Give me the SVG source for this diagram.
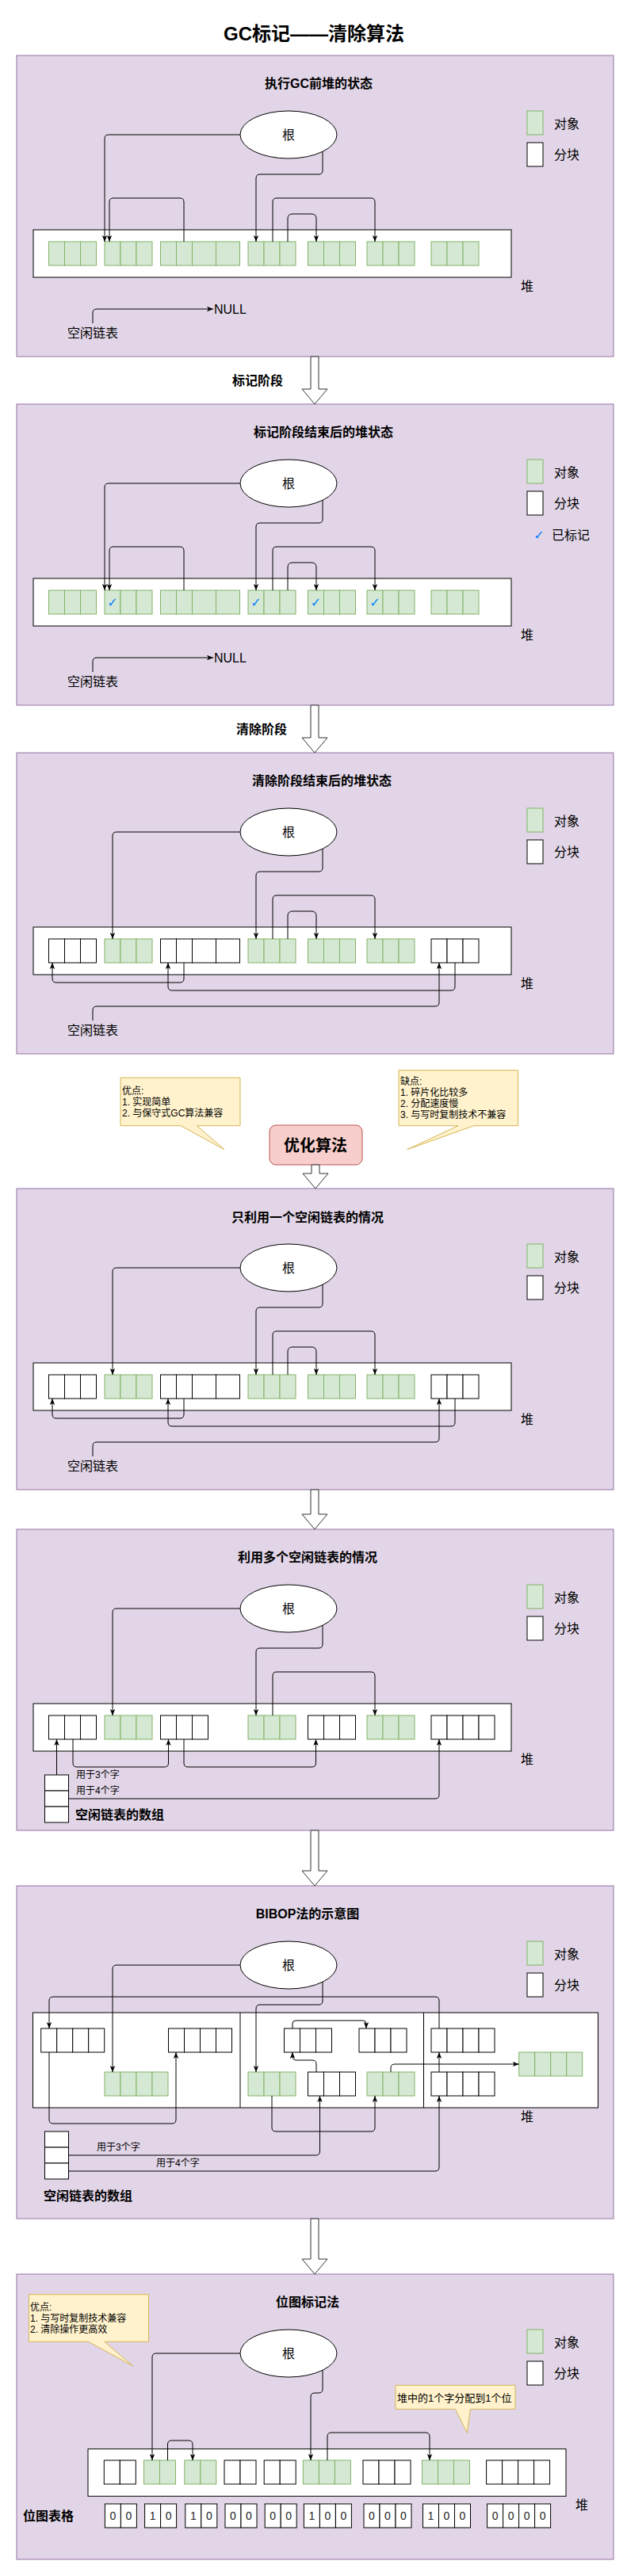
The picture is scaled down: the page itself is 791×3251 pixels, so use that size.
<svg xmlns="http://www.w3.org/2000/svg" width="791" height="3251" viewBox="0 0 791 3251">
<defs>
<marker id="ah" viewBox="0 0 10 10" refX="10" refY="5" markerWidth="8" markerHeight="8" markerUnits="userSpaceOnUse" orient="auto"><path d="M0,1 L10,5 L0,9 L2.5,5 Z" fill="#000"/></marker>
</defs>
<style>
text{font-family:"Liberation Sans","Noto Sans CJK SC",sans-serif;fill:#000}
.panel{fill:#e1d5e7;stroke:#9673a6;stroke-width:1}
.ptitle{font-size:16px;font-weight:bold;text-anchor:middle;dominant-baseline:central}
.lbl{font-size:16px;dominant-baseline:central}
.b{font-weight:bold}
.c{text-anchor:middle}
.g{fill:#d5e8d4;stroke:#82b366;stroke-width:1}
.w{fill:#fff;stroke:#000;stroke-width:1}
.heap{fill:#fff;stroke:#000;stroke-width:1}
.ell{fill:#fff;stroke:#000;stroke-width:1}
.cn{fill:none;stroke:#000;stroke-width:1}
.ar{marker-end:url(#ah)}
.barrow{fill:#fff;stroke:#333;stroke-width:1}
.call{fill:#fff2cc;stroke:#d6b656;stroke-width:1}
.ct{font-size:12px;dominant-baseline:central}
.bit{font-size:14px;text-anchor:middle;dominant-baseline:central;fill:#222}
.chk{font-family:"DejaVu Sans",sans-serif;fill:#007fff;font-size:16px;text-anchor:middle;dominant-baseline:central}
</style>

<text id="title" x="396" y="42" font-size="24" font-weight="bold" text-anchor="middle" dominant-baseline="central">GC标记——清除算法</text>

<!-- ============ Panel 1 ============ -->
<g id="panel1">
<rect class="panel" x="21" y="70" width="753" height="380"/>
<text class="ptitle" x="402" y="105">执行GC前堆的状态</text>
<g id="p1-root"><ellipse class="ell" cx="364" cy="170" rx="61" ry="30"/><text class="lbl c" x="364" y="170">根</text></g>
<g id="p1-legend"><rect class="g" x="665" y="140" width="20" height="30"/><text class="lbl" x="699" y="156">对象</text><rect class="w" x="665" y="180" width="20" height="30"/><text class="lbl" x="699" y="195">分块</text></g>
<g id="p1-heap">
<rect class="heap" x="42" y="290" width="603" height="60"/>
<rect class="g" x="61.5" y="305" width="20" height="30"/><rect class="g" x="81.5" y="305" width="20" height="30"/><rect class="g" x="101.5" y="305" width="20" height="30"/>
<rect class="g" x="132" y="305" width="20" height="30"/><rect class="g" x="152" y="305" width="20" height="30"/><rect class="g" x="172" y="305" width="20" height="30"/>
<rect class="g" x="202.5" y="305" width="20" height="30"/><rect class="g" x="222.5" y="305" width="20" height="30"/><rect class="g" x="242.5" y="305" width="30" height="30"/><rect class="g" x="272.5" y="305" width="30" height="30"/>
<rect class="g" x="313" y="305" width="20" height="30"/><rect class="g" x="333" y="305" width="20" height="30"/><rect class="g" x="353" y="305" width="20" height="30"/>
<rect class="g" x="388.5" y="305" width="20" height="30"/><rect class="g" x="408.5" y="305" width="20" height="30"/><rect class="g" x="428.5" y="305" width="20" height="30"/>
<rect class="g" x="463" y="305" width="20" height="30"/><rect class="g" x="483" y="305" width="20" height="30"/><rect class="g" x="503" y="305" width="20" height="30"/>
<rect class="g" x="544" y="305" width="20" height="30"/><rect class="g" x="564" y="305" width="20" height="30"/><rect class="g" x="584" y="305" width="20" height="30"/>
</g>
<text class="lbl c" x="665" y="361">堆</text>
<text id="p1-free" class="lbl c" x="117" y="420">空闲链表</text>
<text id="p1-null" class="lbl" x="270" y="390">NULL</text>
</g>

<text id="lbl-mark" class="lbl b c" x="325" y="480">标记阶段</text>

<!-- ============ Panel 2 ============ -->
<g id="panel2">
<rect class="panel" x="21" y="510" width="753" height="380"/>
<text class="ptitle" x="408" y="545">标记阶段结束后的堆状态</text>
<g id="p2-root"><ellipse class="ell" cx="364" cy="610" rx="61" ry="30"/><text class="lbl c" x="364" y="610">根</text></g>
<g id="p2-legend"><rect class="g" x="665" y="580" width="20" height="30"/><text class="lbl" x="699" y="596">对象</text><rect class="w" x="665" y="620" width="20" height="30"/><text class="lbl" x="699" y="635">分块</text><text class="chk" x="680" y="675">✓</text><text class="lbl" x="696" y="675">已标记</text></g>
<g id="p2-heap">
<rect class="heap" x="42" y="730" width="603" height="60"/>
<rect class="g" x="61.5" y="745" width="20" height="30"/><rect class="g" x="81.5" y="745" width="20" height="30"/><rect class="g" x="101.5" y="745" width="20" height="30"/>
<rect class="g" x="132" y="745" width="20" height="30"/><rect class="g" x="152" y="745" width="20" height="30"/><rect class="g" x="172" y="745" width="20" height="30"/>
<rect class="g" x="202.5" y="745" width="20" height="30"/><rect class="g" x="222.5" y="745" width="20" height="30"/><rect class="g" x="242.5" y="745" width="30" height="30"/><rect class="g" x="272.5" y="745" width="30" height="30"/>
<rect class="g" x="313" y="745" width="20" height="30"/><rect class="g" x="333" y="745" width="20" height="30"/><rect class="g" x="353" y="745" width="20" height="30"/>
<rect class="g" x="388.5" y="745" width="20" height="30"/><rect class="g" x="408.5" y="745" width="20" height="30"/><rect class="g" x="428.5" y="745" width="20" height="30"/>
<rect class="g" x="463" y="745" width="20" height="30"/><rect class="g" x="483" y="745" width="20" height="30"/><rect class="g" x="503" y="745" width="20" height="30"/>
<rect class="g" x="544" y="745" width="20" height="30"/><rect class="g" x="564" y="745" width="20" height="30"/><rect class="g" x="584" y="745" width="20" height="30"/>
<text class="chk" x="142" y="760">✓</text><text class="chk" x="323" y="760">✓</text><text class="chk" x="398.5" y="760">✓</text><text class="chk" x="473" y="760">✓</text>
</g>
<text class="lbl c" x="665" y="801">堆</text>
<text id="p2-free" class="lbl c" x="117" y="860">空闲链表</text>
<text id="p2-null" class="lbl" x="270" y="830">NULL</text>
</g>

<text id="lbl-sweep" class="lbl b c" x="330" y="920">清除阶段</text>

<!-- ============ Panel 3 ============ -->
<g id="panel3">
<rect class="panel" x="21" y="950" width="753" height="380"/>
<text class="ptitle" x="406" y="985">清除阶段结束后的堆状态</text>
<g id="p3-root"><ellipse class="ell" cx="364" cy="1050" rx="61" ry="30"/><text class="lbl c" x="364" y="1050">根</text></g>
<g id="p3-legend"><rect class="g" x="665" y="1020" width="20" height="30"/><text class="lbl" x="699" y="1036">对象</text><rect class="w" x="665" y="1060" width="20" height="30"/><text class="lbl" x="699" y="1075">分块</text></g>
<g id="p3-heap">
<rect class="heap" x="42" y="1170" width="603" height="60"/>
<rect class="w" x="61.5" y="1185" width="20" height="30"/><rect class="w" x="81.5" y="1185" width="20" height="30"/><rect class="w" x="101.5" y="1185" width="20" height="30"/>
<rect class="g" x="132" y="1185" width="20" height="30"/><rect class="g" x="152" y="1185" width="20" height="30"/><rect class="g" x="172" y="1185" width="20" height="30"/>
<rect class="w" x="202.5" y="1185" width="20" height="30"/><rect class="w" x="222.5" y="1185" width="20" height="30"/><rect class="w" x="242.5" y="1185" width="30" height="30"/><rect class="w" x="272.5" y="1185" width="30" height="30"/>
<rect class="g" x="313" y="1185" width="20" height="30"/><rect class="g" x="333" y="1185" width="20" height="30"/><rect class="g" x="353" y="1185" width="20" height="30"/>
<rect class="g" x="388.5" y="1185" width="20" height="30"/><rect class="g" x="408.5" y="1185" width="20" height="30"/><rect class="g" x="428.5" y="1185" width="20" height="30"/>
<rect class="g" x="463" y="1185" width="20" height="30"/><rect class="g" x="483" y="1185" width="20" height="30"/><rect class="g" x="503" y="1185" width="20" height="30"/>
<rect class="w" x="544" y="1185" width="20" height="30"/><rect class="w" x="564" y="1185" width="20" height="30"/><rect class="w" x="584" y="1185" width="20" height="30"/>
</g>
<text class="lbl c" x="665" y="1241">堆</text>
<text id="p3-free" class="lbl c" x="117" y="1300">空闲链表</text>
</g>

<!-- ============ Callouts & optimisation ============ -->
<g id="callout-pros">
<path class="call" d="M152,1360 H303 V1420.7 H248.5 L283,1450.7 L228,1420.7 H152 Z"/>
<text class="ct" x="154" y="1376.5">优点:</text>
<text class="ct" x="154" y="1390.5">1. 实现简单</text>
<text class="ct" x="154" y="1404.5">2. 与保守式GC算法兼容</text>
</g>
<g id="callout-cons">
<path class="call" d="M503,1350.7 H653.6 V1420.7 H598 L513.7,1450.7 L578,1420.7 H503 Z"/>
<text class="ct" x="505" y="1365">缺点:</text>
<text class="ct" x="505" y="1379">1. 碎片化比较多</text>
<text class="ct" x="505" y="1393">2. 分配速度慢</text>
<text class="ct" x="505" y="1407">3. 与写时复制技术不兼容</text>
</g>
<g id="optimize">
<rect x="340" y="1420" width="117" height="50" rx="8" ry="8" fill="#f8cecc" stroke="#b85450"/>
<text x="398" y="1446" font-size="20" font-weight="bold" text-anchor="middle" dominant-baseline="central">优化算法</text>
</g>

<!-- ============ Panel 4 ============ -->
<g id="panel4">
<rect class="panel" x="21" y="1500" width="753" height="380"/>
<text class="ptitle" x="388" y="1536">只利用一个空闲链表的情况</text>
<g id="p4-root"><ellipse class="ell" cx="364" cy="1600" rx="61" ry="30"/><text class="lbl c" x="364" y="1600">根</text></g>
<g id="p4-legend"><rect class="g" x="665" y="1570" width="20" height="30"/><text class="lbl" x="699" y="1586">对象</text><rect class="w" x="665" y="1610" width="20" height="30"/><text class="lbl" x="699" y="1625">分块</text></g>
<g id="p4-heap">
<rect class="heap" x="42" y="1720" width="603" height="60"/>
<rect class="w" x="61.5" y="1735" width="20" height="30"/><rect class="w" x="81.5" y="1735" width="20" height="30"/><rect class="w" x="101.5" y="1735" width="20" height="30"/>
<rect class="g" x="132" y="1735" width="20" height="30"/><rect class="g" x="152" y="1735" width="20" height="30"/><rect class="g" x="172" y="1735" width="20" height="30"/>
<rect class="w" x="202.5" y="1735" width="20" height="30"/><rect class="w" x="222.5" y="1735" width="20" height="30"/><rect class="w" x="242.5" y="1735" width="30" height="30"/><rect class="w" x="272.5" y="1735" width="30" height="30"/>
<rect class="g" x="313" y="1735" width="20" height="30"/><rect class="g" x="333" y="1735" width="20" height="30"/><rect class="g" x="353" y="1735" width="20" height="30"/>
<rect class="g" x="388.5" y="1735" width="20" height="30"/><rect class="g" x="408.5" y="1735" width="20" height="30"/><rect class="g" x="428.5" y="1735" width="20" height="30"/>
<rect class="g" x="463" y="1735" width="20" height="30"/><rect class="g" x="483" y="1735" width="20" height="30"/><rect class="g" x="503" y="1735" width="20" height="30"/>
<rect class="w" x="544" y="1735" width="20" height="30"/><rect class="w" x="564" y="1735" width="20" height="30"/><rect class="w" x="584" y="1735" width="20" height="30"/>
</g>
<text class="lbl c" x="665" y="1791">堆</text>
<text id="p4-free" class="lbl c" x="117" y="1850">空闲链表</text>
</g>

<!-- ============ Panel 5 ============ -->
<g id="panel5">
<rect class="panel" x="21" y="1930" width="753" height="380"/>
<text class="ptitle" x="388" y="1965">利用多个空闲链表的情况</text>
<g id="p5-root"><ellipse class="ell" cx="364" cy="2030" rx="61" ry="30"/><text class="lbl c" x="364" y="2030">根</text></g>
<g id="p5-legend"><rect class="g" x="665" y="2000" width="20" height="30"/><text class="lbl" x="699" y="2016">对象</text><rect class="w" x="665" y="2040" width="20" height="30"/><text class="lbl" x="699" y="2055">分块</text></g>
<g id="p5-heap">
<rect class="heap" x="42" y="2150" width="603" height="60"/>
<rect class="w" x="61.5" y="2165" width="20" height="30"/><rect class="w" x="81.5" y="2165" width="20" height="30"/><rect class="w" x="101.5" y="2165" width="20" height="30"/>
<rect class="g" x="132" y="2165" width="20" height="30"/><rect class="g" x="152" y="2165" width="20" height="30"/><rect class="g" x="172" y="2165" width="20" height="30"/>
<rect class="w" x="202.5" y="2165" width="20" height="30"/><rect class="w" x="222.5" y="2165" width="20" height="30"/><rect class="w" x="242.5" y="2165" width="20" height="30"/>
<rect class="g" x="313" y="2165" width="20" height="30"/><rect class="g" x="333" y="2165" width="20" height="30"/><rect class="g" x="353" y="2165" width="20" height="30"/>
<rect class="w" x="388.5" y="2165" width="20" height="30"/><rect class="w" x="408.5" y="2165" width="20" height="30"/><rect class="w" x="428.5" y="2165" width="20" height="30"/>
<rect class="g" x="463" y="2165" width="20" height="30"/><rect class="g" x="483" y="2165" width="20" height="30"/><rect class="g" x="503" y="2165" width="20" height="30"/>
<rect class="w" x="544" y="2165" width="20" height="30"/><rect class="w" x="564" y="2165" width="20" height="30"/><rect class="w" x="584" y="2165" width="20" height="30"/><rect class="w" x="604" y="2165" width="20" height="30"/>
</g>
<text class="lbl c" x="665" y="2220">堆</text>
<g id="p5-array">
<rect class="w" x="56.5" y="2240" width="30" height="20"/><rect class="w" x="56.5" y="2260" width="30" height="20"/><rect class="w" x="56.5" y="2280" width="30" height="20"/>
<text class="ct" x="96" y="2240">用于3个字</text>
<text class="ct" x="96" y="2260">用于4个字</text>
<text class="lbl b" x="95" y="2290">空闲链表的数组</text>
</g>
</g>

<!-- ============ Panel 6 ============ -->
<g id="panel6">
<rect class="panel" x="21" y="2380" width="753" height="420"/>
<text class="ptitle" x="388" y="2415">BIBOP法的示意图</text>
<g id="p6-root"><ellipse class="ell" cx="364" cy="2480" rx="61" ry="30"/><text class="lbl c" x="364" y="2480">根</text></g>
<g id="p6-legend"><rect class="g" x="665" y="2450" width="20" height="30"/><text class="lbl" x="699" y="2466">对象</text><rect class="w" x="665" y="2490" width="20" height="30"/><text class="lbl" x="699" y="2505">分块</text></g>
<g id="p6-heap">
<rect class="heap" x="41.5" y="2540" width="713" height="120"/>
<line x1="303" y1="2540" x2="303" y2="2660" stroke="#000"/>
<line x1="534.5" y1="2540" x2="534.5" y2="2660" stroke="#000"/>
<g id="p6-A"><rect class="w" x="51.7" y="2560" width="20" height="30"/><rect class="w" x="71.7" y="2560" width="20" height="30"/><rect class="w" x="91.7" y="2560" width="20" height="30"/><rect class="w" x="111.7" y="2560" width="20" height="30"/></g>
<g id="p6-B"><rect class="w" x="212.5" y="2560" width="20" height="30"/><rect class="w" x="232.5" y="2560" width="20" height="30"/><rect class="w" x="252.5" y="2560" width="20" height="30"/><rect class="w" x="272.5" y="2560" width="20" height="30"/></g>
<g id="p6-C"><rect class="g" x="132" y="2615" width="20" height="30"/><rect class="g" x="152" y="2615" width="20" height="30"/><rect class="g" x="172" y="2615" width="20" height="30"/><rect class="g" x="192" y="2615" width="20" height="30"/></g>
<g id="p6-D"><rect class="w" x="358.5" y="2560" width="20" height="30"/><rect class="w" x="378.5" y="2560" width="20" height="30"/><rect class="w" x="398.5" y="2560" width="20" height="30"/></g>
<g id="p6-E"><rect class="w" x="453" y="2560" width="20" height="30"/><rect class="w" x="473" y="2560" width="20" height="30"/><rect class="w" x="493" y="2560" width="20" height="30"/></g>
<g id="p6-F"><rect class="g" x="313" y="2615" width="20" height="30"/><rect class="g" x="333" y="2615" width="20" height="30"/><rect class="g" x="353" y="2615" width="20" height="30"/></g>
<g id="p6-G"><rect class="w" x="388.5" y="2615" width="20" height="30"/><rect class="w" x="408.5" y="2615" width="20" height="30"/><rect class="w" x="428.5" y="2615" width="20" height="30"/></g>
<g id="p6-H"><rect class="g" x="463" y="2615" width="20" height="30"/><rect class="g" x="483" y="2615" width="20" height="30"/><rect class="g" x="503" y="2615" width="20" height="30"/></g>
<g id="p6-I"><rect class="w" x="544" y="2560" width="20" height="30"/><rect class="w" x="564" y="2560" width="20" height="30"/><rect class="w" x="584" y="2560" width="20" height="30"/><rect class="w" x="604" y="2560" width="20" height="30"/></g>
<g id="p6-J"><rect class="w" x="544" y="2615" width="20" height="30"/><rect class="w" x="564" y="2615" width="20" height="30"/><rect class="w" x="584" y="2615" width="20" height="30"/><rect class="w" x="604" y="2615" width="20" height="30"/></g>
<g id="p6-K"><rect class="g" x="654.7" y="2590" width="20" height="30"/><rect class="g" x="674.7" y="2590" width="20" height="30"/><rect class="g" x="694.7" y="2590" width="20" height="30"/><rect class="g" x="714.7" y="2590" width="20" height="30"/></g>
</g>
<text class="lbl c" x="665" y="2671">堆</text>
<g id="p6-array">
<rect class="w" x="56.5" y="2690" width="30" height="20"/><rect class="w" x="56.5" y="2710" width="30" height="20"/><rect class="w" x="56.5" y="2730" width="30" height="20"/>
<text class="ct" x="122" y="2710">用于3个字</text>
<text class="ct" x="197" y="2730">用于4个字</text>
<text class="lbl b" x="55" y="2771">空闲链表的数组</text>
</g>
</g>

<!-- ============ Panel 7 ============ -->
<g id="panel7">
<rect class="panel" x="21" y="2870" width="753" height="360"/>
<text class="ptitle" x="388" y="2905">位图标记法</text>
<g id="p7-callout">
<path class="call" d="M36.5,2895.7 H187.6 V2955.3 H131.8 L167.3,2985.7 L111.6,2955.3 H36.5 Z"/>
<text class="ct" x="38" y="2911.5">优点:</text>
<text class="ct" x="38" y="2925.5">1. 与写时复制技术兼容</text>
<text class="ct" x="38" y="2939.5">2. 清除操作更高效</text>
</g>
<g id="p7-root"><ellipse class="ell" cx="364" cy="2970" rx="61" ry="30"/><text class="lbl c" x="364" y="2970">根</text></g>
<g id="p7-legend"><rect class="g" x="665" y="2940" width="20" height="30"/><text class="lbl" x="699" y="2956">对象</text><rect class="w" x="665" y="2980" width="20" height="30"/><text class="lbl" x="699" y="2995">分块</text></g>
<g id="p7-note">
<path class="call" d="M499,3010.3 H650 V3040.3 H593.3 L589.2,3070.3 L574.5,3040.3 H499 Z"/>
<text x="501" y="3026" font-size="13" dominant-baseline="central">堆中的1个字分配到1个位</text>
</g>
<g id="p7-heap">
<rect class="heap" x="111" y="3090.7" width="603" height="59.6"/>
<rect class="w" x="131.3" y="3105" width="20" height="30"/><rect class="w" x="151.3" y="3105" width="20" height="30"/>
<rect class="g" x="181.5" y="3105" width="20" height="30"/><rect class="g" x="201.5" y="3105" width="20" height="30"/>
<rect class="g" x="232.8" y="3105" width="20" height="30"/><rect class="g" x="252.8" y="3105" width="20" height="30"/>
<rect class="w" x="283" y="3105" width="20" height="30"/><rect class="w" x="303" y="3105" width="20" height="30"/>
<rect class="w" x="333.2" y="3105" width="20" height="30"/><rect class="w" x="353.2" y="3105" width="20" height="30"/>
<rect class="g" x="382.4" y="3105" width="20" height="30"/><rect class="g" x="402.4" y="3105" width="20" height="30"/><rect class="g" x="422.4" y="3105" width="20" height="30"/>
<rect class="w" x="458" y="3105" width="20" height="30"/><rect class="w" x="478" y="3105" width="20" height="30"/><rect class="w" x="498" y="3105" width="20" height="30"/>
<rect class="g" x="532.5" y="3105" width="20" height="30"/><rect class="g" x="552.5" y="3105" width="20" height="30"/><rect class="g" x="572.5" y="3105" width="20" height="30"/>
<rect class="w" x="613.6" y="3105" width="20" height="30"/><rect class="w" x="633.6" y="3105" width="20" height="30"/><rect class="w" x="653.6" y="3105" width="20" height="30"/><rect class="w" x="673.6" y="3105" width="20" height="30"/>
</g>
<text class="lbl c" x="734" y="3161">堆</text>
<g id="p7-bitmap">
<rect class="w" x="132.4" y="3160" width="20" height="30"/><rect class="w" x="152.4" y="3160" width="20" height="30"/>
<rect class="w" x="182.6" y="3160" width="20" height="30"/><rect class="w" x="202.6" y="3160" width="20" height="30"/>
<rect class="w" x="233.8" y="3160" width="20" height="30"/><rect class="w" x="253.8" y="3160" width="20" height="30"/>
<rect class="w" x="284" y="3160" width="20" height="30"/><rect class="w" x="304" y="3160" width="20" height="30"/>
<rect class="w" x="334.2" y="3160" width="20" height="30"/><rect class="w" x="354.2" y="3160" width="20" height="30"/>
<rect class="w" x="383.4" y="3160" width="20" height="30"/><rect class="w" x="403.4" y="3160" width="20" height="30"/><rect class="w" x="423.4" y="3160" width="20" height="30"/>
<rect class="w" x="459" y="3160" width="20" height="30"/><rect class="w" x="479" y="3160" width="20" height="30"/><rect class="w" x="499" y="3160" width="20" height="30"/>
<rect class="w" x="533.5" y="3160" width="20" height="30"/><rect class="w" x="553.5" y="3160" width="20" height="30"/><rect class="w" x="573.5" y="3160" width="20" height="30"/>
<rect class="w" x="614.6" y="3160" width="20" height="30"/><rect class="w" x="634.6" y="3160" width="20" height="30"/><rect class="w" x="654.6" y="3160" width="20" height="30"/><rect class="w" x="674.6" y="3160" width="20" height="30"/>
<text class="bit" x="142.4" y="3175">0</text><text class="bit" x="162.4" y="3175">0</text>
<text class="bit" x="192.6" y="3175">1</text><text class="bit" x="212.6" y="3175">0</text>
<text class="bit" x="243.8" y="3175">1</text><text class="bit" x="263.8" y="3175">0</text>
<text class="bit" x="294" y="3175">0</text><text class="bit" x="314" y="3175">0</text>
<text class="bit" x="344.2" y="3175">0</text><text class="bit" x="364.2" y="3175">0</text>
<text class="bit" x="393.4" y="3175">1</text><text class="bit" x="413.4" y="3175">0</text><text class="bit" x="433.4" y="3175">0</text>
<text class="bit" x="469" y="3175">0</text><text class="bit" x="489" y="3175">0</text><text class="bit" x="509" y="3175">0</text>
<text class="bit" x="543.5" y="3175">1</text><text class="bit" x="563.5" y="3175">0</text><text class="bit" x="583.5" y="3175">0</text>
<text class="bit" x="624.6" y="3175">0</text><text class="bit" x="644.6" y="3175">0</text><text class="bit" x="664.6" y="3175">0</text><text class="bit" x="684.6" y="3175">0</text>
</g>
<text class="lbl b" x="29" y="3175">位图表格</text>
</g>

<!-- ============ Connectors ============ -->
<g id="connectors">
<g id="stage-arrows">
<path class="barrow" d="M392,450 H402 V491 H413 L397,510 L381,491 H392 Z"/>
<path class="barrow" d="M392,890 H402 V931 H413 L397,950 L381,931 H392 Z"/>
<path class="barrow" d="M393,1470 H403 V1481 H414 L398,1500 L382,1481 H393 Z"/>
<path class="barrow" d="M392,1880 H402 V1911 H413 L397,1930 L381,1911 H392 Z"/>
<path class="barrow" d="M392,2310 H402 V2361 H413 L397,2380 L381,2361 H392 Z"/>
<path class="barrow" d="M392,2800 H402 V2851 H413 L397,2870 L381,2851 H392 Z"/>
</g>
<g id="c-p1" class="cn">
<path class="ar" d="M303,170 H137 Q132,170 132,175 V305"/>
<path class="ar" d="M407,191 V215 Q407,220 402,220 H328 Q323,220 323,225 V305"/>
<path class="ar" d="M232,305 V255 Q232,250 227,250 H143 Q138,250 138,255 V305"/>
<path class="ar" d="M344,305 V255 Q344,250 349,250 H468 Q473,250 473,255 V305"/>
<path class="ar" d="M363,305 V276 Q363,270 369,270 H393 Q399,270 399,276 V305"/>
<path class="ar" d="M117,408 V395 Q117,390 122,390 H269"/>
</g>
<g id="c-p2" class="cn">
<path class="ar" d="M303,610 H137 Q132,610 132,615 V745"/>
<path class="ar" d="M407,631 V655 Q407,660 402,660 H328 Q323,660 323,665 V745"/>
<path class="ar" d="M232,745 V695 Q232,690 227,690 H143 Q138,690 138,695 V745"/>
<path class="ar" d="M344,745 V695 Q344,690 349,690 H468 Q473,690 473,695 V745"/>
<path class="ar" d="M363,745 V716 Q363,710 369,710 H393 Q399,710 399,716 V745"/>
<path class="ar" d="M117,848 V835 Q117,830 122,830 H269"/>
</g>
<g id="c-p3" class="cn">
<path class="ar" d="M303,1050 H147 Q142,1050 142,1055 V1185"/>
<path class="ar" d="M407,1071 V1095 Q407,1100 402,1100 H328 Q323,1100 323,1105 V1185"/>
<path class="ar" d="M344,1185 V1135 Q344,1130 349,1130 H468 Q473,1130 473,1135 V1185"/>
<path class="ar" d="M363,1185 V1156 Q363,1150 369,1150 H393 Q399,1150 399,1156 V1185"/>
<path class="ar" d="M232,1215 V1235 Q232,1240 227,1240 H71 Q66,1240 66,1235 V1215"/>
<path class="ar" d="M574,1215 V1245 Q574,1250 569,1250 H217 Q212,1250 212,1245 V1215"/>
<path class="ar" d="M117,1288 V1275 Q117,1270 122,1270 H549 Q554,1270 554,1265 V1215"/>
</g>
<g id="c-p4" class="cn">
<path class="ar" d="M303,1600 H147 Q142,1600 142,1605 V1735"/>
<path class="ar" d="M407,1621 V1645 Q407,1650 402,1650 H328 Q323,1650 323,1655 V1735"/>
<path class="ar" d="M344,1735 V1685 Q344,1680 349,1680 H468 Q473,1680 473,1685 V1735"/>
<path class="ar" d="M363,1735 V1706 Q363,1700 369,1700 H393 Q399,1700 399,1706 V1735"/>
<path class="ar" d="M232,1765 V1785 Q232,1790 227,1790 H71 Q66,1790 66,1785 V1765"/>
<path class="ar" d="M574,1765 V1795 Q574,1800 569,1800 H217 Q212,1800 212,1795 V1765"/>
<path class="ar" d="M117,1838 V1825 Q117,1820 122,1820 H549 Q554,1820 554,1815 V1765"/>
</g>
<g id="c-p5" class="cn">
<path class="ar" d="M303,2030 H147 Q142,2030 142,2035 V2165"/>
<path class="ar" d="M407,2051 V2075 Q407,2080 402,2080 H328 Q323,2080 323,2085 V2165"/>
<path class="ar" d="M344,2165 V2115 Q344,2110 349,2110 H468 Q473,2110 473,2115 V2165"/>
<path class="ar" d="M71.5,2240 V2195"/>
<path class="ar" d="M92,2195 V2225 Q92,2230 97,2230 H207.5 Q212.5,2230 212.5,2225 V2195"/>
<path class="ar" d="M232,2195 V2225 Q232,2230 237,2230 H393.5 Q398.5,2230 398.5,2225 V2195"/>
<path class="ar" d="M86.5,2270 H549 Q554,2270 554,2265 V2195"/>
</g>
<g id="c-p6" class="cn">
<path class="ar" d="M303,2480 H147 Q142,2480 142,2485 V2615"/>
<path class="ar" d="M407,2501 V2525 Q407,2530 402,2530 H328 Q323,2530 323,2535 V2615"/>
<path class="ar" d="M554,2560 V2525 Q554,2520 549,2520 H67 Q62,2520 62,2525 V2560"/>
<path class="ar" d="M62,2590 V2675 Q62,2680 67,2680 H217 Q222,2680 222,2675 V2590"/>
<path class="ar" d="M369,2560 V2554 Q369,2550 373,2550 H458 Q462,2550 462,2554 V2560"/>
<path class="ar" d="M399,2615 V2605 Q399,2600 394,2600 H374 Q369,2600 369,2595 V2590"/>
<path class="ar" d="M343,2645 V2685 Q343,2690 348,2690 H468 Q473,2690 473,2685 V2645"/>
<path class="ar" d="M493,2615 V2610 Q493,2605 498,2605 H654.7"/>
<path class="ar" d="M554,2615 V2590"/>
<path class="ar" d="M86.5,2720 H398.5 Q403.5,2720 403.5,2715 V2645"/>
<path class="ar" d="M86.5,2740 H549 Q554,2740 554,2735 V2645"/>
</g>
<g id="c-p7" class="cn">
<path class="ar" d="M303,2970 H197 Q192,2970 192,2975 V3105"/>
<path class="ar" d="M407,2991 V3015 Q407,3020 402,3020 H397 Q392,3020 392,3025 V3105"/>
<path class="ar" d="M211.5,3105 V3085 Q211.5,3080 216.5,3080 H238 Q243,3080 243,3085 V3105"/>
<path class="ar" d="M413,3105 V3075 Q413,3070 418,3070 H537 Q542,3070 542,3075 V3105"/>
</g>
</g>
</svg>
